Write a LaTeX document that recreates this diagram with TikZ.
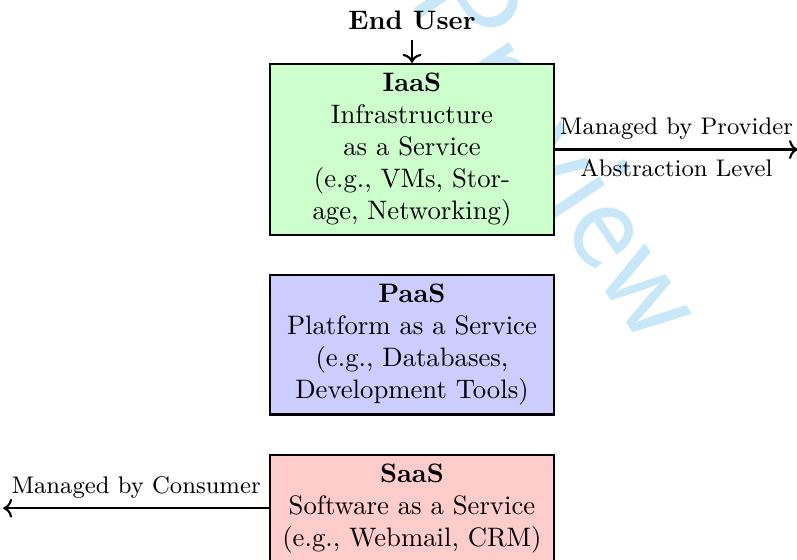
\documentclass[tikz,border=0pt]{standalone}
\usepackage{tikz}
\usetikzlibrary{positioning, arrows.meta}
\usepackage{xcolor}
\definecolor{wmark}{RGB}{200,232,250}

\begin{document}
\begin{tikzpicture}[>=To, thick, node distance=0.5cm,
                    layer/.style={draw, text width=3.5cm, align=center},
                    side/.style={font=\small}]

    \useasboundingbox (-154.3pt,-153.4pt) rectangle (144.2pt,56pt);

    % faint stamp behind everything
    \node[rotate=-56, text=wmark, font=\sffamily\fontsize{52}{52}\selectfont] (stamp) at (57.3pt,0.9pt) {Preview};

    \node[layer, fill=green!20] (iaas) at (0,0) {\textbf{IaaS}\\ Infrastructure as a Service\\ (e.g., VMs, Storage, Networking)};
    \node[layer, fill=blue!20] (paas) [below=of iaas] {\textbf{PaaS}\\ Platform as a Service\\ (e.g., Databases, Development Tools)};
    \node[layer, fill=red!20] (saas) [below=of paas] {\textbf{SaaS}\\ Software as a Service\\ (e.g., Webmail, CRM)};

    \node[font=\bfseries] (user) [above=0.3cm of iaas] {End User};
    \draw[->] (user) -- (iaas);

    \draw[->] (iaas.east) -- ++(3.2cm,0)
        node[side, midway, above] {Managed by Provider}
        node[side, midway, below] {Abstraction Level};
    \draw[->] (saas.west) -- ++(-3.5cm,0)
        node[side, midway, above] {Managed by Consumer};
\end{tikzpicture}
\end{document}
